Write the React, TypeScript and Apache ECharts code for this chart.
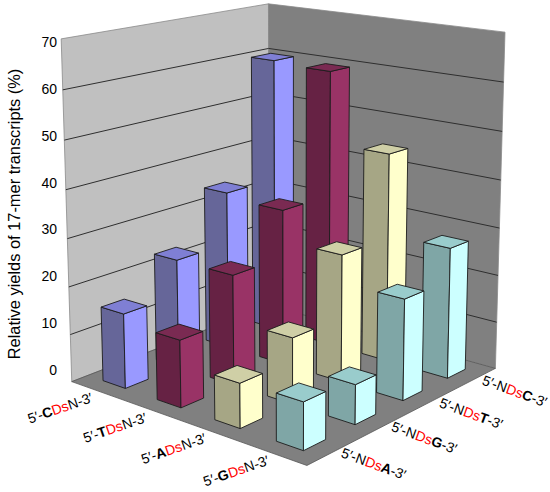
import React, { useEffect, useRef } from "react";
import * as echarts from "echarts";

const rowBases = ["C", "T", "A", "G"];
const columnBases = ["A", "G", "T", "C"];
const yTicks = [0, 10, 20, 30, 40, 50, 60, 70];
const yieldsC = [15.6, 23, 34, 60];
const yieldsT = [13.8, 23, 33, 59.5];
const yieldsA = [9, 13.6, 26.6, 44.3];
const yieldsG = [9.4, 8, 20.8, 27.4];
const allYields = [yieldsC, yieldsT, yieldsA, yieldsG];
const yMax = 70;

const rowColors = [
  { side: "#666699", front: "#9999ff", top: "#7f7fd4" },
  { side: "#662244", front: "#993366", top: "#7a2a52" },
  { side: "#a6a685", front: "#ffffcc", top: "#cfcfa6" },
  { side: "#7fa6a6", front: "#ccffff", top: "#99cccc" },
];

// Calibration of the 3D box: [u, v, h, weight] -> [screen x, screen y]
const calibration: number[][] = [
  [0, 0, 0, 72, 381, 2],
  [1, 0, 0, 307, 466, 3],
  [1, 1, 0, 495, 368, 3],
  [0, 1, 0, 270, 308, 1],
  [0, 0, 1, 61, 40, 1],
  [0, 1, 1, 268, 4, 1],
  [1, 1, 1, 506, 33, 1],
  [0, 0, 0.5, 66, 213, 1],
  [0, 1, 0.5, 269, 156, 1],
  [1, 1, 0.5, 500, 203, 1],
];

function solveProjection(): number[] {
  const n = 11;
  const A: number[][] = Array.from({ length: n }, () => new Array(n + 1).fill(0));
  const add = (row: number[], b: number, w: number) => {
    for (let i = 0; i < n; i++) {
      for (let j = 0; j < n; j++) A[i][j] += w * row[i] * row[j];
      A[i][n] += w * row[i] * b;
    }
  };
  calibration.forEach(([u, v, h, x, y, w]) => {
    add([u, v, h, 1, 0, 0, 0, 0, -x * u, -x * v, -x * h], x, w);
    add([0, 0, 0, 0, u, v, h, 1, -y * u, -y * v, -y * h], y, w);
  });
  for (let i = 0; i < n; i++) {
    let p = i;
    for (let k = i + 1; k < n; k++) if (Math.abs(A[k][i]) > Math.abs(A[p][i])) p = k;
    [A[i], A[p]] = [A[p], A[i]];
    for (let k = 0; k < n; k++) {
      if (k === i) continue;
      const f = A[k][i] / A[i][i];
      for (let j = i; j <= n; j++) A[k][j] -= f * A[i][j];
    }
  }
  return A.map((r, i) => r[n] / r[i]);
}
const M = solveProjection();
const project = (u: number, v: number, h: number): number[] => {
  const w = M[8] * u + M[9] * v + M[10] * h + 1;
  return [
    (M[0] * u + M[1] * v + M[2] * h + M[3]) / w,
    (M[4] * u + M[5] * v + M[6] * h + M[7]) / w,
  ];
};

const BAR = 0.42 / 8;
const barData: number[][] = [];
allYields.forEach((vals, r) => vals.forEach((val, c) => barData.push([r, c, val])));
barData.sort((a, b) => a[0] - a[1] - (b[0] - b[1]));

const renderBar = (_: any, api: any) => {
  const r = api.value(0);
  const c = api.value(1);
  const h = api.value(2) / yMax;
  const cu = (r + 0.5) / 4;
  const cv = (c + 0.5) / 4;
  const u0 = cu - BAR, u1 = cu + BAR, v0 = cv - BAR, v1 = cv + BAR;
  const col = rowColors[r];
  const style = (fill: string) => ({ fill, stroke: "#1c1c1c", lineWidth: 0.9, lineJoin: "round" });
  return {
    type: "group",
    children: [
      { type: "polygon", shape: { points: [project(u0, v0, 0), project(u1, v0, 0), project(u1, v0, h), project(u0, v0, h)] }, style: style(col.side) },
      { type: "polygon", shape: { points: [project(u1, v0, 0), project(u1, v1, 0), project(u1, v1, h), project(u1, v0, h)] }, style: style(col.front) },
      { type: "polygon", shape: { points: [project(u0, v0, h), project(u1, v0, h), project(u1, v1, h), project(u0, v1, h)] }, style: style(col.top) },
    ],
  };
};

const renderBox = () => ({
  type: "group",
  children: [
    { type: "polygon", shape: { points: [project(0, 0, 0), project(0, 1, 0), project(0, 1, 1), project(0, 0, 1)] }, style: { fill: "#c0c0c0", stroke: "#8a8a8a", lineWidth: 0.8 } },
    { type: "polygon", shape: { points: [project(0, 1, 0), project(1, 1, 0), project(1, 1, 1), project(0, 1, 1)] }, style: { fill: "#808080", stroke: "#8a8a8a", lineWidth: 0.8 } },
    { type: "polygon", shape: { points: [project(0, 0, 0), project(1, 0, 0), project(1, 1, 0), project(0, 1, 0)] }, style: { fill: "#808080", stroke: "#555555", lineWidth: 0.8 } },
  ],
});

const renderGridline = (_: any, api: any) => {
  const t = api.value(1);
  if (t <= 0 || t >= yMax) return { type: "group", children: [] };
  const h = t / yMax;
  return {
    type: "polyline",
    shape: { points: [project(0, 0, h), project(0, 1, h), project(1, 1, h)] },
    style: { fill: "none", stroke: "#2e2e2e", lineWidth: 1 },
  };
};

const rich = {
  n: { fontFamily: "Liberation Sans", fontSize: 14, fill: "#000000" },
  b: { fontFamily: "Liberation Sans", fontSize: 14, fontWeight: "bold", fill: "#000000" },
  r: { fontFamily: "Liberation Sans", fontSize: 14, fill: "#ff0000" },
};

const renderRowLabel = (_: any, api: any) => {
  const i = api.value(0);
  const p = project((i + 0.5) / 4, 0, 0);
  return {
    type: "text",
    x: p[0] - 38,
    y: p[1] + 17,
    rotation: (19 * Math.PI) / 180,
    style: { text: `{n|5′-}{b|${rowBases[i]}}{r|Ds}{n|N-3′}`, rich, align: "center", verticalAlign: "middle" },
  };
};

const renderColumnLabel = (_: any, api: any) => {
  const i = api.value(0);
  const p = project(1, (i + 0.5) / 4, 0);
  return {
    type: "text",
    x: p[0] + 40,
    y: p[1] + 12,
    rotation: (-20 * Math.PI) / 180,
    style: { text: `{n|5′-N}{r|Ds}{b|${columnBases[i]}}{n|-3′}`, rich, align: "center", verticalAlign: "middle" },
  };
};

const customBase = { type: "custom", coordinateSystem: "cartesian2d", silent: true, clip: false };

export default function App() {
  const ref = useRef<HTMLDivElement>(null);
  useEffect(() => {
    const chart = echarts.init(ref.current!, null, { renderer: "svg" });
    chart.setOption({
      animation: false,
      backgroundColor: "#ffffff",
      grid: { left: 58, top: 42, width: 440, height: 328 },
      xAxis: { type: "value", min: 0, max: 3, show: false },
      yAxis: {
        type: "value",
        min: 0,
        max: yMax,
        interval: 10,
        axisLine: { show: false },
        axisTick: { show: false },
        splitLine: { show: false },
        axisLabel: { fontFamily: "Liberation Sans", fontSize: 14, color: "#000000", margin: 1 },
      },
      graphic: [
        {
          type: "text",
          x: 14,
          y: 214,
          rotation: Math.PI / 2,
          z: 10,
          style: {
            text: "Relative yields of 17-mer transcripts (%)",
            fontFamily: "Liberation Sans",
            fontSize: 16.4,
            fill: "#000000",
            align: "center",
            verticalAlign: "middle",
          },
        },
      ],
      series: [
        { ...customBase, data: [[0, 0]], renderItem: renderBox, z: 1 },
        { ...customBase, data: yTicks.map((t) => [0, t]), renderItem: renderGridline, z: 2 },
        { ...customBase, data: barData, encode: { x: 0, y: 2 }, renderItem: renderBar, z: 3 },
        { ...customBase, data: rowBases.map((_, i) => [i, 0]), renderItem: renderRowLabel, z: 4 },
        { ...customBase, data: columnBases.map((_, i) => [i, 0]), renderItem: renderColumnLabel, z: 4 },
      ],
    });
    return () => chart.dispose();
  }, []);
  return <div ref={ref} style={{ position: "fixed", left: 0, top: 0, width: 550, height: 492 }} />;
}
